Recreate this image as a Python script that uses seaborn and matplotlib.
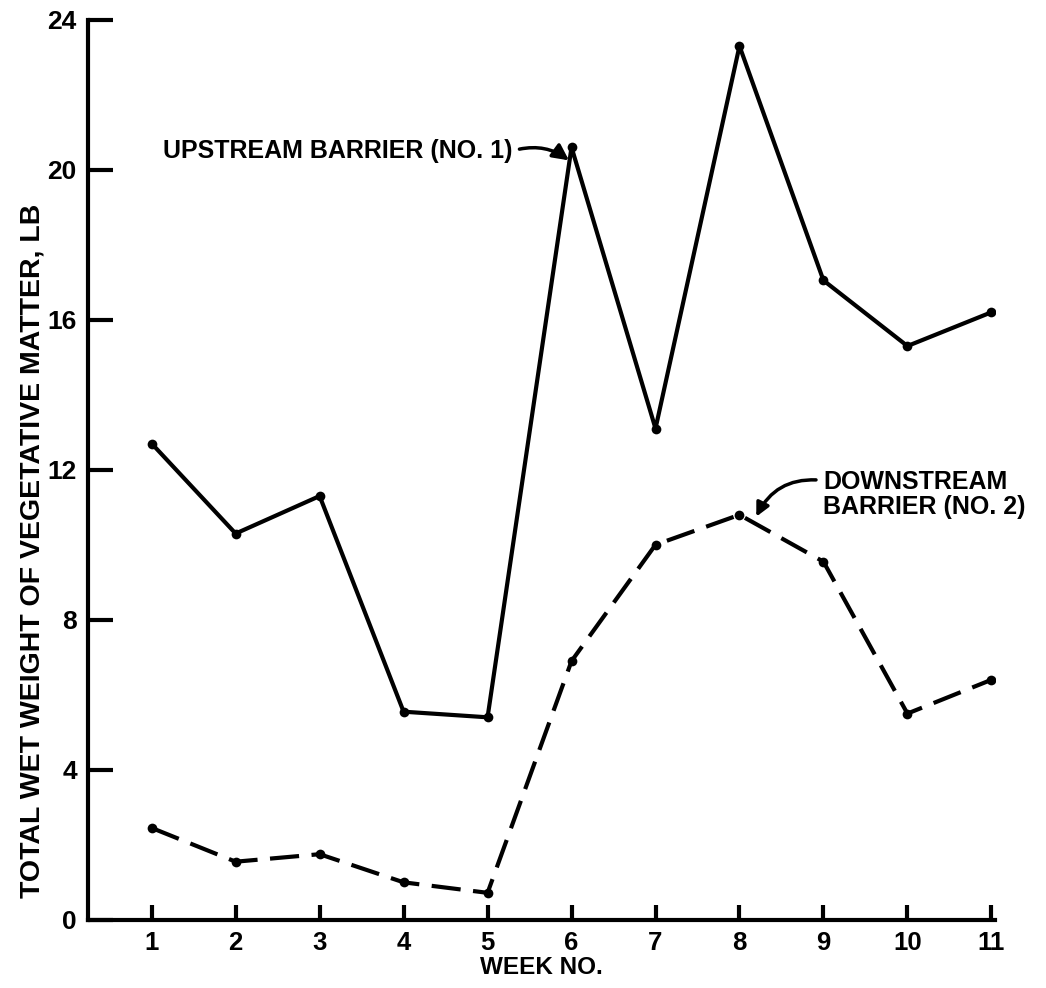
import matplotlib
matplotlib.use("Agg")
import matplotlib.pyplot as plt
import seaborn as sns
import pandas as pd

weeks = [1, 2, 3, 4, 5, 6, 7, 8, 9, 10, 11]
upstream = [12.7, 10.3, 11.3, 5.55, 5.4, 20.6, 13.1, 23.3, 17.05, 15.3, 16.2]
downstream = [2.45, 1.55, 1.75, 1.0, 0.72, 6.9, 10.0, 10.8, 9.55, 5.5, 6.4]
y_ticks = [0, 4, 8, 12, 16, 20, 24]
x_ticks = weeks

sns.set_style("ticks")
plt.rcParams['font.family'] = ['Liberation Sans', 'DejaVu Sans']
plt.rcParams['font.weight'] = 'bold'
for k in ['text.color', 'axes.labelcolor', 'xtick.color', 'ytick.color', 'axes.edgecolor']:
    plt.rcParams[k] = 'black'

df = pd.DataFrame({
    "week": weeks * 2,
    "weight": upstream + downstream,
    "series": ["UPSTREAM"] * len(weeks) + ["DOWNSTREAM"] * len(weeks),
})

fig = plt.figure(figsize=(10.46, 9.88), dpi=100)
ax = fig.add_axes([0.084, 0.069, 0.867, 0.911])

sns.lineplot(data=df[df.series == "UPSTREAM"], x="week", y="weight", ax=ax,
             color="black", lw=3.0, marker="o", markersize=7, markeredgewidth=0)
sns.lineplot(data=df[df.series == "DOWNSTREAM"], x="week", y="weight", ax=ax,
             color="black", lw=3.0, marker="o", markersize=7, markeredgewidth=0,
             dashes=False)
ax.lines[-1].set_dashes([7, 3])

ax.set_xlim(0.24, 11.04)
ax.set_ylim(0, 24)
ax.set_xticks(x_ticks)
ax.set_yticks(y_ticks)
ax.set_xticklabels([str(w) for w in x_ticks], fontsize=18.5, fontweight='bold')
ax.set_yticklabels([str(t) for t in y_ticks], fontsize=19, fontweight='bold')
ax.tick_params(axis='x', direction='in', length=11, width=3, pad=8)
ax.tick_params(axis='y', direction='in', length=18, width=3, pad=8)
for s in ["top", "right"]:
    ax.spines[s].set_visible(False)
for s in ["left", "bottom"]:
    ax.spines[s].set_linewidth(3)

ax.set_xlabel("WEEK NO.", fontsize=17.5, fontweight='bold', labelpad=1)
ax.set_ylabel("TOTAL WET WEIGHT OF VEGETATIVE MATTER, LB", fontsize=20.5,
              fontweight='bold')
ax.yaxis.set_label_coords(-0.047, 0.41)

ax.annotate("UPSTREAM BARRIER (NO. 1)", xy=(5.97, 20.25), xytext=(1.13, 20.5),
            fontsize=18, fontweight='bold', va='center', ha='left',
            arrowprops=dict(arrowstyle='-|>', color='black', lw=2.5,
                            mutation_scale=24, shrinkA=3, shrinkB=0,
                            relpos=(1.0, 0.5),
                            connectionstyle='arc3,rad=-0.25'))
ax.annotate("DOWNSTREAM\nBARRIER (NO. 2)", xy=(8.2, 10.75), xytext=(9.0, 11.35),
            fontsize=18, fontweight='bold', va='center', ha='left',
            linespacing=1.05,
            arrowprops=dict(arrowstyle='-|>', color='black', lw=2.5,
                            mutation_scale=20, shrinkA=3, shrinkB=0,
                            relpos=(0.0, 0.78),
                            connectionstyle='arc3,rad=0.35'))

fig.savefig("out.png", dpi=100)
